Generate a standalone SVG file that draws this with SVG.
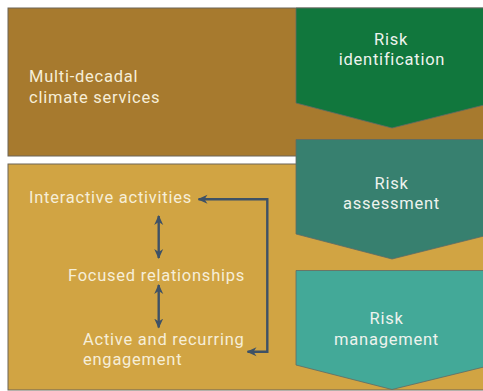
<svg xmlns="http://www.w3.org/2000/svg" width="483" height="391" viewBox="0 0 483 391">
  <defs>
    <style>
      .panel { stroke: #6d6457; stroke-width: 1; }
      .step { stroke: #5f6a66; stroke-width: 0.8; }
      .lbl { font-family: Roboto, "Liberation Sans", sans-serif; font-size: 16.5px; letter-spacing: 0.75px; fill: #f6eed8; }
      .steplbl { font-family: Roboto, "Liberation Sans", sans-serif; font-size: 16.5px; letter-spacing: 0.75px; fill: #eef3ee; text-anchor: middle; }
      .link { fill: none; stroke: #3e5166; stroke-width: 2.4; }
    </style>
    <marker id="head" viewBox="0 0 10 10" refX="9" refY="5" markerWidth="10" markerHeight="10" markerUnits="userSpaceOnUse" orient="auto-start-reverse">
      <path d="M0,0.5 L10,5 L0,9.5 L3,5 Z" fill="#3e5166"/>
    </marker>
  </defs>

  <rect width="483" height="391" fill="#ffffff"/>

  <!-- outer bands -->
  <g id="multi-decadal">
    <rect class="panel" x="8" y="8" width="482" height="148" fill="#a77a2e"/>
    <text class="lbl" x="29" y="82">Multi-decadal</text>
    <text class="lbl" x="29" y="102.5">climate services</text>
  </g>
  <g id="engagement-panel">
    <rect class="panel" x="8" y="164" width="482" height="226" fill="#d1a443"/>
  </g>

  <!-- risk steps -->
  <g id="risk-identification">
    <polygon class="step" points="296,8 490,8 490,103.5 392,128 296,103" fill="#11773d"/>
    <text class="steplbl" x="391" y="45">Risk</text>
    <text class="steplbl" x="392" y="65">identification</text>
  </g>
  <g id="risk-assessment">
    <polygon class="step" points="296,139.5 490,139.5 490,234.5 392,259 296,234" fill="#37806f"/>
    <text class="steplbl" x="391.5" y="188.5">Risk</text>
    <text class="steplbl" x="391.5" y="208.5">assessment</text>
  </g>
  <g id="risk-management">
    <polygon class="step" points="296,270.5 490,270.5 490,365.5 392,389.5 296,365" fill="#43a998"/>
    <text class="steplbl" x="386.5" y="324">Risk</text>
    <text class="steplbl" x="386.5" y="344.5">management</text>
  </g>

  <!-- engagement items -->
  <g id="interactive-activities">
    <text class="lbl" x="29" y="203">Interactive activities</text>
  </g>
  <g id="focused-relationships">
    <text class="lbl" x="68" y="280.5">Focused relationships</text>
  </g>
  <g id="active-engagement">
    <text class="lbl" x="83" y="345">Active and recurring</text>
    <text class="lbl" x="83" y="365">engagement</text>
  </g>

  <!-- connectors -->
  <g id="connectors">
    <line class="link" x1="158.7" y1="216" x2="158.7" y2="258" marker-start="url(#head)" marker-end="url(#head)"/>
    <line class="link" x1="158.7" y1="285" x2="158.7" y2="327.5" marker-start="url(#head)" marker-end="url(#head)"/>
    <path class="link" d="M198.5,199.3 H267.3 V351.7 H247.5" marker-start="url(#head)" marker-end="url(#head)"/>
  </g>
</svg>
